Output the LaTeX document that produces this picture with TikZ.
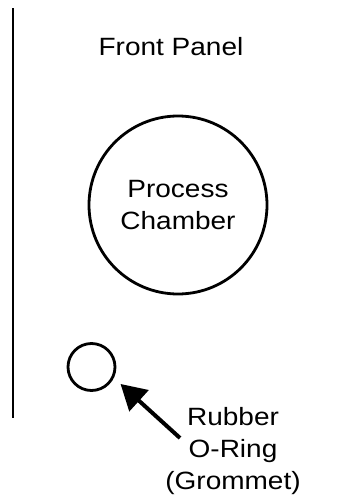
\documentclass[tikz,border=0pt]{standalone}
\usepackage{fontspec}
\newfontfamily\labfont[FakeStretch=1.12]{Liberation Sans}
\usetikzlibrary{arrows.meta}
\tikzset{
  lbl/.style={font=\labfont\fontsize{25}{32}\selectfont, align=center, inner sep=0pt},
  ringline/.style={draw, circle, line width=2.8pt, inner sep=0pt},
  pointer/.style={line width=4pt, -{Triangle[length=25pt,width=28pt]}, shorten >=9pt}
}
\begin{document}
\begin{tikzpicture}[x=1pt,y=-1pt]
\useasboundingbox (0,0) rectangle (342,496);
% front panel edge
\coordinate (ptop) at (13,8);
\coordinate (pbot) at (13,418);
\draw[line width=2.4pt] (ptop) -- (pbot);
\node[lbl] (front) at (171,46.5) {Front Panel};
\node[ringline, minimum size=178pt, lbl] (chamber) at (178,205) {Process\\Chamber};
\node[ringline, minimum size=47pt] (ring) at (91.5,367) {};
\node[lbl] (label) at (233,451) {Rubber\\O-Ring\\(Grommet)};
\coordinate (tail) at (180,438);
\draw[pointer] (tail) -- (ring.-26);
\end{tikzpicture}
\end{document}
